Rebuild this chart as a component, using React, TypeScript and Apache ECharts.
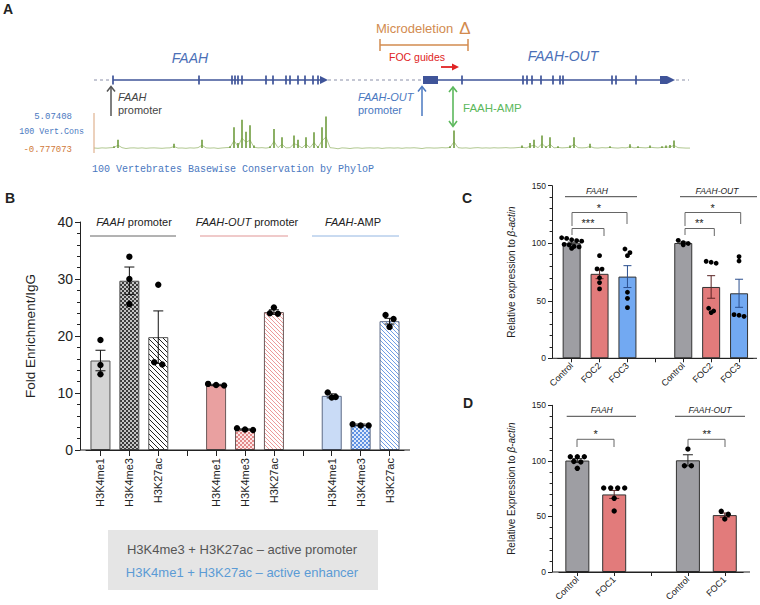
import React, { useEffect, useRef } from 'react';
import * as echarts from 'echarts';

// ---------- Panel A data (track bins: 0..149) ----------
const CONS_VALUES = [
  0.05, -0.1, 0.1, 0.0, 0.15, 0.3, 1.3, 0.2, -0.2, 0.05,
  0.1, -0.05, 0.1, -0.1, 0.05, 0.1, 0.0, -0.1, 0.05, 0.1,
  0.7, 0.0, 0.05, -0.1, 0.1, 0.0, 0.2, 1.3, 0.1, 0.0,
  0.1, -0.15, 0.05, 0.2, 0.3, 3.3, 0.8, 4.5, 2.6, 3.6,
  0.4, 0.1, 0.2, 0.0, 0.3, 3.0, 0.2, 1.7, 0.1, 0.2,
  2.0, 1.3, 0.1, 1.7, 0.2, 2.5, 0.3, 3.3, 5.0, 0.2,
  0.0, -0.3, 0.1, 0.0, -0.2, 0.05, 0.1, -0.1, 0.05, 0.1,
  0.0, 0.1, -0.15, 0.05, 0.1, 0.0, 0.1, -0.1, 0.1, 0.05,
  0.15, 0.0, -0.2, 0.1, 0.1, 0.0, 0.05, 0.2, 0.1, 0.3,
  2.8, 0.2, 0.0, 0.1, -0.1, 0.1, 0.2, 0.0, 0.1, 0.0,
  0.15, 0.05, 0.1, 0.2, 0.05, 0.1, 0.25, 0.4, 0.1, 0.8,
  1.3, 0.2, 2.0, 0.3, 1.7, 0.1, 0.3, 0.1, 0.2, 0.4,
  1.7, 0.2, 0.1, 0.2, 0.7, 0.1, 0.0, 0.2, 0.1, 0.3,
  0.1, 0.0, 0.2, 0.1, 0.6, 0.1, 0.3, 0.2, 0.1, 0.4,
  0.2, 0.1, 0.3, 0.4, 0.5, 1.2, 0.2, 0.1, 0.0, 0.0,
];
const CONS_MIN = -0.777073;
const CONS_MAX = 5.07408;
const BACKBONE_SPAN = [0, 148.75];
const FAAH_SPAN = [4.75, 58.5];
const FAAH_EXONS = [4.75, 26.25, 34.5, 35.25, 36, 37, 43, 44.75, 48, 49, 51, 52.75, 54.75, 56];
const FAAH_OUT_SPAN = [82.25, 145.25];
const FAAH_OUT_EXONS = [92, 107.25, 108.25, 109.5, 111.75, 114.75, 116.5, 117.25, 129.5, 130.5, 135.5];
const FAAH_OUT_BLOCKS = [[82.25, 86], [141.5, 143.25]];

// ---------- Panel B ----------
const B_CATS = ['H3K4me1', 'H3K4me3', 'H3K27ac', '', 'H3K4me1', 'H3K4me3', 'H3K27ac', '', 'H3K4me1', 'H3K4me3', 'H3K27ac'];
const B_MEANS = [15.7, 29.7, 19.8, null, 11.4, 3.6, 24.2, null, 9.5, 4.4, 22.6];
const B_SEMS = [1.8, 2.4, 4.6, null, 0.12, 0.1, 0.4, null, 0.35, 0.15, 0.5];
const B_POINTS = [
  [19.3, 14.9, 13.3], [33.9, 30.0, 25.6], [29.0, 15.0, 15.4], [],
  [11.3, 11.6, 11.4], [3.5, 3.8, 3.6], [23.9, 25.0, 24.0], [],
  [10.1, 9.2, 9.3], [4.5, 4.3, 4.3], [23.7, 21.6, 23.0],
];

// ---------- Panel C ----------
const C_CATS = ['Control', 'FOC2', 'FOC3', '', 'Control', 'FOC2', 'FOC3'];
const C_MEANS = [100.0, 73.4, 71.0, null, 100.2, 62.0, 56.5];
const C_SEMS = [0.9, 4.2, 9.5, null, 0.8, 9.8, 12.2];
const C_POINTS = [
  [104.8, 104.2, 103.0, 102.2, 101.8, 99.0, 98.5, 97.2, 96.8, 95.5],
  [89.2, 77.7, 77.5, 70.0, 65.8, 60.3],
  [95.0, 91.8, 89.2, 57.4, 52.1, 44.0],
  [],
  [102.5, 100.5, 99.8, 98.6],
  [84.3, 83.5, 82.6, 43.5, 41.1, 39.7],
  [88.4, 84.6, 37.9, 37.4, 36.5],
];

// ---------- Panel D ----------
const D_CATS = ['Control', 'FOC1', '', 'Control', 'FOC1'];
const D_MEANS = [100.3, 69.8, null, 100.5, 51.2];
const D_SEMS = [1.7, 3.6, null, 5.0, 1.9];
const D_POINTS = [
  [103.7, 103.7, 103.7, 99.5, 99.0, 93.3],
  [75.6, 75.6, 75.6, 75.6, 66.3, 54.9],
  [],
  [110.7, 95.6, 95.6],
  [54.6, 51.9, 47.7],
];

const SANS = 'Liberation Sans, Arial, Helvetica, sans-serif';
const MONO = 'Liberation Mono, Courier New, monospace';

function checker(fg: string, bg: string, s = 2) {
  const c = document.createElement('canvas');
  c.width = 2 * s; c.height = 2 * s;
  const g = c.getContext('2d')!;
  g.fillStyle = bg; g.fillRect(0, 0, 2 * s, 2 * s);
  g.fillStyle = fg; g.fillRect(0, 0, s, s); g.fillRect(s, s, s, s);
  return { image: c, repeat: 'repeat' };
}
function hatch(fg: string, bg: string, s = 5, w = 1) {
  const c = document.createElement('canvas');
  c.width = s; c.height = s;
  const g = c.getContext('2d')!;
  g.fillStyle = bg; g.fillRect(0, 0, s, s);
  g.strokeStyle = fg; g.lineWidth = w;
  g.beginPath();
  g.moveTo(0, 0); g.lineTo(s, s);
  g.moveTo(-1, s - 1); g.lineTo(1, s + 1);
  g.moveTo(s - 1, -1); g.lineTo(s + 1, 1);
  g.stroke();
  return { image: c, repeat: 'repeat' };
}

function swarm(ys: number[], d: number, thr: number, maxRow: number) {
  const order = ys.map((_, k) => k).sort((a, b) => ys[a] - ys[b]);
  const offs = new Array(ys.length).fill(0);
  let cl: number[] = [];
  const flush = () => {
    const k = cl.length;
    cl.forEach((idx, j) => {
      const row = Math.floor(j / maxRow);
      const inRow = Math.min(maxRow, k - row * maxRow);
      const col = j % maxRow;
      offs[idx] = (col - (inRow - 1) / 2) * d;
    });
    cl = [];
  };
  for (const idx of order) {
    if (cl.length && ys[idx] - ys[cl[0]] > thr) flush();
    cl.push(idx);
  }
  flush();
  return offs;
}

function errDots(gi: number, means: any[], sems: any[], points: number[][], r: number, d: number, thr: number, maxRow: number, capW: number, errColors: string[]) {
  const data: number[][] = [];
  means.forEach((m, i) => { if (m != null) data.push([i, m, sems[i]]); });
  return {
    type: 'custom', xAxisIndex: gi, yAxisIndex: gi, z: 10, clip: false, silent: true,
    data,
    renderItem: (params: any, api: any) => {
      const i = api.value(0), m = api.value(1), s = api.value(2);
      const [cx] = api.coord([i, m]);
      const yt = api.coord([i, m + s])[1];
      const yb = api.coord([i, m - s])[1];
      const col = errColors[i] || '#111';
      const children: any[] = [
        { type: 'line', shape: { x1: cx, y1: yt, x2: cx, y2: yb }, style: { stroke: col, lineWidth: 1 } },
        { type: 'line', shape: { x1: cx - capW, y1: yt, x2: cx + capW, y2: yt }, style: { stroke: col, lineWidth: 1 } },
        { type: 'line', shape: { x1: cx - capW, y1: yb, x2: cx + capW, y2: yb }, style: { stroke: col, lineWidth: 1 } },
      ];
      const ys = points[i].map((v) => api.coord([i, v])[1]);
      const offs = swarm(ys, d, thr, maxRow);
      ys.forEach((y, k) => children.push({ type: 'circle', shape: { cx: cx + offs[k], cy: y, r }, style: { fill: '#000' } }));
      return { type: 'group', children };
    },
  };
}

const T = (text: string, x: number, y: number, o: any = {}) => ({
  type: 'text', silent: true, z: 20,
  style: {
    text, x, y,
    fill: o.fill || '#222',
    fontSize: o.size || 11,
    fontFamily: o.family || SANS,
    fontStyle: o.italic ? 'italic' : 'normal',
    fontWeight: o.bold ? 'bold' : 'normal',
    align: o.align || 'center', textAlign: o.align || 'center',
    verticalAlign: 'middle', textVerticalAlign: 'middle',
    rich: o.rich,
  },
});
const L = (x1: number, y1: number, x2: number, y2: number, stroke = '#333', lineWidth = 1) => ({
  type: 'line', silent: true, z: 20, shape: { x1, y1, x2, y2 }, style: { stroke, lineWidth },
});
const PL = (points: number[][], stroke = '#333', lineWidth = 1) => ({
  type: 'polyline', silent: true, z: 20, shape: { points }, style: { stroke, lineWidth, fill: null },
});
const PG = (points: number[][], fill: string) => ({
  type: 'polygon', silent: true, z: 20, shape: { points }, style: { fill },
});
const italicRich = (size: number, fill: string) => ({ i: { fontStyle: 'italic', fontSize: size, fontFamily: SANS, fill } });

export default function App() {
  const ref = useRef<HTMLDivElement>(null);
  useEffect(() => {
    if (!ref.current) return;
    const chart = echarts.init(ref.current, undefined, { renderer: 'svg' });

    const B_FILLS: any[] = [
      '#d4d4d4', checker('#3a3a3a', '#c4c4c4', 2), hatch('#222', '#ffffff', 5, 1), null,
      '#e9a0a0', checker('#e28a8a', '#fde6e6', 2), hatch('#ec9a9a', '#ffffff', 4, 1), null,
      '#c9dbf6', checker('#5f92e2', '#dde9fb', 2), hatch('#6f9de6', '#ffffff', 4, 1),
    ];
    const B_BORDERS = ['#555', '#555', '#555', '', '#6b5a5a', '#6b5a5a', '#6b5a5a', '', '#5c6a86', '#5c6a86', '#5c6a86'];
    const C_FILLS = ['#9e9ea3', '#e27b7b', '#72a9f2', null, '#9e9ea3', '#e27b7b', '#72a9f2'];
    const C_ERR = ['#222', '#5a2424', '#2a4f8f', '', '#222', '#5a2424', '#2a4f8f'];
    const D_FILLS = ['#9e9ea3', '#e27b7b', null, '#9e9ea3', '#e27b7b'];
    const D_ERR = ['#222', '#5a2424', '', '#222', '#5a2424'];

    const barData = (means: any[], fills: any[], borders: string[] | string) =>
      means.map((m, i) => (m == null ? '-' : {
        value: m,
        itemStyle: { color: fills[i], borderColor: Array.isArray(borders) ? borders[i] : borders, borderWidth: 1 },
      }));

    const axisLineStyle = { color: '#222', width: 1 };

    const catAxis = (gi: number, data: string[], rotate: number, fontSize: number, margin: number, tickLen: number) => ({
      type: 'category', gridIndex: gi, data,
      axisLine: { show: true, lineStyle: axisLineStyle },
      axisTick: { show: true, alignWithLabel: true, length: tickLen, interval: 0, lineStyle: axisLineStyle },
      axisLabel: { rotate, fontSize, margin, interval: 0, color: '#222', fontFamily: SANS },
      splitLine: { show: false },
    });
    const valAxis = (gi: number, max: number, interval: number, offset: number, fontSize: number, margin: number, tickLen: number, name: string, nameSize: number, nameGap: number) => ({
      type: 'value', gridIndex: gi, min: 0, max, interval, offset,
      axisLine: { show: true, lineStyle: axisLineStyle },
      axisTick: { show: true, length: tickLen, lineStyle: axisLineStyle },
      minorTick: { show: true, splitNumber: 5, length: tickLen * 0.6, lineStyle: axisLineStyle },
      axisLabel: { fontSize, margin, color: '#222', fontFamily: SANS },
      splitLine: { show: false },
      name, nameLocation: 'middle', nameGap, nameRotate: 90,
      nameTextStyle: { fontSize: nameSize, color: '#222', fontFamily: SANS, rich: { i: { fontStyle: 'italic', fontSize: nameSize, color: '#222', fontFamily: SANS } } },
    });

    const geneColor = '#3f5499';
    const geneSeries = {
      type: 'custom', xAxisIndex: 4, yAxisIndex: 4, silent: true, clip: false,
      data: [[0, 0.5]],
      renderItem: (params: any, api: any) => {
        const y = api.coord([0, 0.5])[1];
        const px = (v: number) => api.coord([v, 0.5])[0];
        const ch: any[] = [];
        ch.push({ type: 'line', shape: { x1: px(BACKBONE_SPAN[0]), y1: y, x2: px(BACKBONE_SPAN[1]), y2: y }, style: { stroke: '#8a8fa8', lineWidth: 1, lineDash: [3, 3] } });
        [FAAH_SPAN, FAAH_OUT_SPAN].forEach((sp) => {
          const tip = px(sp[1]);
          ch.push({ type: 'rect', shape: { x: px(sp[0]) - 1, y: y - 2, width: tip - px(sp[0]) - 4, height: 4 }, style: { fill: '#ffffff' } });
          ch.push({ type: 'line', shape: { x1: px(sp[0]), y1: y, x2: tip - 6, y2: y }, style: { stroke: geneColor, lineWidth: 1.6 } });
          ch.push({ type: 'polygon', shape: { points: [[tip - 8, y - 4], [tip, y], [tip - 8, y + 4]] }, style: { fill: geneColor } });
        });
        [...FAAH_EXONS, ...FAAH_OUT_EXONS].forEach((e) => {
          ch.push({ type: 'line', shape: { x1: px(e), y1: y - 4.5, x2: px(e), y2: y + 4.5 }, style: { stroke: geneColor, lineWidth: 1.7 } });
        });
        FAAH_OUT_BLOCKS.forEach((b) => {
          ch.push({ type: 'rect', shape: { x: px(b[0]), y: y - 4, width: px(b[1]) - px(b[0]), height: 8 }, style: { fill: geneColor } });
        });
        return { type: 'group', children: ch };
      },
    };

    // conservation wiggle: thin vertical spikes from the zero line plus a fine baseline trace
    const trackSeries = {
      type: 'custom', xAxisIndex: 3, yAxisIndex: 3, silent: true, clip: false,
      data: [[0, 0]],
      renderItem: (params: any, api: any) => {
        const pts = CONS_VALUES.map((v, i) => api.coord([i, v]));
        const y0 = api.coord([0, 0])[1];
        const ch: any[] = [
          { type: 'polyline', shape: { points: pts.map((p) => [p[0], y0 + (p[1] - y0) * 0.35]) }, style: { stroke: '#8fb062', lineWidth: 0.7, fill: null } },
        ];
        pts.forEach((p, i) => {
          if (CONS_VALUES[i] > 0.25) {
            ch.push({ type: 'line', shape: { x1: p[0], y1: y0, x2: p[0], y2: p[1] }, style: { stroke: '#6f9c3e', lineWidth: 1.6 } });
          }
        });
        return { type: 'group', children: ch };
      },
    };

    const orange = '#d28b4f';
    const blueT = '#4a78c0';
    const green = '#5cb85c';
    const red = '#e02424';

    const graphic: any[] = [
      // Panel A
      T('A', 3, 9, { bold: true, size: 14, align: 'left' }),
      T('FAAH', 190, 58, { italic: true, size: 14, fill: '#4b70b7' }),
      T('FAAH-OUT', 563, 56, { italic: true, size: 14, fill: '#4b70b7' }),
      T('Microdeletion', 376, 28, { size: 13, fill: orange, align: 'left' }),
      T('Δ', 465, 28, { size: 17, fill: orange }),
      L(380, 45, 468, 45, orange, 1.5), L(380, 39, 380, 51, orange, 1.5), L(468, 39, 468, 51, orange, 1.5),
      T('FOC guides', 417, 57, { size: 10.5, fill: red }),
      L(441, 67, 453, 67, red, 1.8), PG([[452, 63.5], [459, 67], [452, 70.5]], red),
      L(111, 116, 111, 87, '#555', 1.5), PL([[107, 91.5], [111, 86.5], [115, 91.5]], '#555', 1.5),
      T('FAAH', 118, 97, { italic: true, size: 11, fill: '#444', align: 'left' }),
      T('promoter', 118, 110, { size: 11, fill: '#444', align: 'left' }),
      L(422, 116, 422, 87, blueT, 1.5), PL([[418, 91.5], [422, 86.5], [426, 91.5]], blueT, 1.5),
      T('FAAH-OUT', 358, 97, { italic: true, size: 11, fill: blueT, align: 'left' }),
      T('promoter', 358, 110, { size: 11, fill: blueT, align: 'left' }),
      L(453, 88, 453, 126, green, 1.6), PL([[449, 92], [453, 87], [457, 92]], green, 1.6), PL([[449, 121], [453, 126.5], [457, 121]], green, 1.6),
      T('FAAH-AMP', 463, 108, { size: 11.5, fill: green, align: 'left' }),
      T('5.07408', 72, 117, { family: MONO, size: 9, fill: blueT, align: 'right' }),
      T('100 Vert.Cons', 84, 131, { family: MONO, size: 8.3, fill: blueT, align: 'right' }),
      T('-0.777073', 72, 150, { family: MONO, size: 9, fill: '#d07a3a', align: 'right' }),
      L(94, 113, 94, 153, '#d9a37a', 1),
      T('100 Vertebrates Basewise Conservation by PhyloP', 92, 169, { family: MONO, size: 10, fill: blueT, align: 'left' }),

      // Panel B
      T('B', 5, 198, { bold: true, size: 14, align: 'left' }),
      T('{i|FAAH} promoter', 134, 222, { size: 11, rich: italicRich(11, '#222') }),
      L(90, 236, 176, 236, '#666', 1),
      T('{i|FAAH-OUT} promoter', 247, 222, { size: 11, rich: italicRich(11, '#222') }),
      L(200, 236, 288, 236, '#e09595', 1),
      T('{i|FAAH}-AMP', 353, 222, { size: 11, rich: italicRich(11, '#222') }),
      L(312, 236, 399, 236, '#93b6e2', 1),
      L(80, 450, 410, 450, '#222', 1),
      { type: 'rect', silent: true, z: 1, shape: { x: 108, y: 530, width: 270, height: 60 }, style: { fill: '#e5e5e5' } },
      T('H3K4me3 + H3K27ac – active promoter', 242, 549, { size: 13, fill: '#555' }),
      T('H3K4me1 + H3K27ac – active enhancer', 242, 572, { size: 13, fill: '#5b9bd5' }),

      // Panel C
      T('C', 462, 198, { bold: true, size: 14, align: 'left' }),
      T('FAAH', 597, 190.5, { italic: true, size: 8.5 }),
      L(565, 196.7, 637, 196.7, '#444', 1),
      T('FAAH-OUT', 717, 190.5, { italic: true, size: 8.5 }),
      L(680, 196.7, 757, 196.7, '#444', 1),
      PL([[572, 226], [572, 212.5], [627, 212.5], [627, 224]], '#666', 1),
      T('*', 599, 207.5, { size: 11 }),
      PL([[572, 235], [572, 228.5], [604, 228.5], [604, 236]], '#666', 1),
      T('***', 588, 223, { size: 11 }),
      PL([[685, 226], [685, 212.5], [740.7, 212.5], [740.7, 224]], '#666', 1),
      T('*', 712.7, 207.5, { size: 11 }),
      PL([[685, 235], [685, 228.5], [714.3, 228.5], [714.3, 236]], '#666', 1),
      T('**', 699.3, 223, { size: 11 }),
      L(552, 358.3, 757, 358.3, '#222', 1),

      // Panel D
      T('D', 463, 403, { bold: true, size: 14, align: 'left' }),
      T('FAAH', 601.7, 410, { italic: true, size: 8.5 }),
      L(566.7, 416.3, 636, 416.3, '#444', 1),
      T('FAAH-OUT', 710, 410, { italic: true, size: 8.5 }),
      L(675, 416.3, 745, 416.3, '#444', 1),
      PL([[577, 447], [577, 439.3], [614, 439.3], [614, 447]], '#666', 1),
      T('*', 595.7, 434, { size: 11 }),
      PL([[688, 447], [688, 439.3], [725, 439.3], [725, 447]], '#666', 1),
      T('**', 706.7, 434, { size: 11 }),
      L(552, 572, 750, 572, '#222', 1),
    ];

    chart.setOption({
      animation: false,
      textStyle: { fontFamily: SANS },
      grid: [
        { left: 86, top: 222, width: 318, height: 228 },
        { left: 557.7, top: 185.7, width: 195.3, height: 172.6 },
        { left: 558.9, top: 405.3, width: 184.3, height: 166.7 },
        { left: 94, top: 116, width: 596, height: 37 },
        { left: 94, top: 70, width: 596, height: 20 },
      ],
      xAxis: [
        catAxis(0, B_CATS, 90, 11, 8, 6),
        catAxis(1, C_CATS, 45, 9, 6, 4),
        catAxis(2, D_CATS, 45, 9, 6, 4),
        { type: 'value', gridIndex: 3, min: 0, max: CONS_VALUES.length - 1, show: false },
        { type: 'value', gridIndex: 4, min: 0, max: CONS_VALUES.length - 1, show: false },
      ],
      yAxis: [
        valAxis(0, 40, 10, 6, 14, 7, 5, 'Fold Enrichment/IgG', 13.5, 43),
        valAxis(1, 150, 50, 5.7, 8.5, 6, 4, 'Relative expression to {i|β-actin}', 10, 36),
        valAxis(2, 150, 50, 6.9, 8.5, 6, 4, 'Relative Expression to {i|β-actin}', 10, 36),
        { type: 'value', gridIndex: 3, min: CONS_MIN, max: CONS_MAX, show: false },
        { type: 'value', gridIndex: 4, min: 0, max: 1, show: false },
      ],
      series: [
        { type: 'bar', xAxisIndex: 0, yAxisIndex: 0, barWidth: 20, data: barData(B_MEANS, B_FILLS, B_BORDERS), silent: true },
        errDots(0, B_MEANS, B_SEMS, B_POINTS, 3.2, 8, 5, 5, 5, []),
        { type: 'bar', xAxisIndex: 1, yAxisIndex: 1, barWidth: 18, data: barData(C_MEANS, C_FILLS, '#333'), silent: true },
        errDots(1, C_MEANS, C_SEMS, C_POINTS, 2.4, 5, 4, 5, 4, C_ERR),
        { type: 'bar', xAxisIndex: 2, yAxisIndex: 2, barWidth: 24, data: barData(D_MEANS, D_FILLS, '#333'), silent: true },
        errDots(2, D_MEANS, D_SEMS, D_POINTS, 2.7, 7, 4, 5, 5, D_ERR),
        trackSeries,
        geneSeries,
      ],
      graphic,
    });
    return () => chart.dispose();
  }, []);
  return <div ref={ref} style={{ position: 'absolute', left: 0, top: 0, width: 760, height: 605 }} />;
}
